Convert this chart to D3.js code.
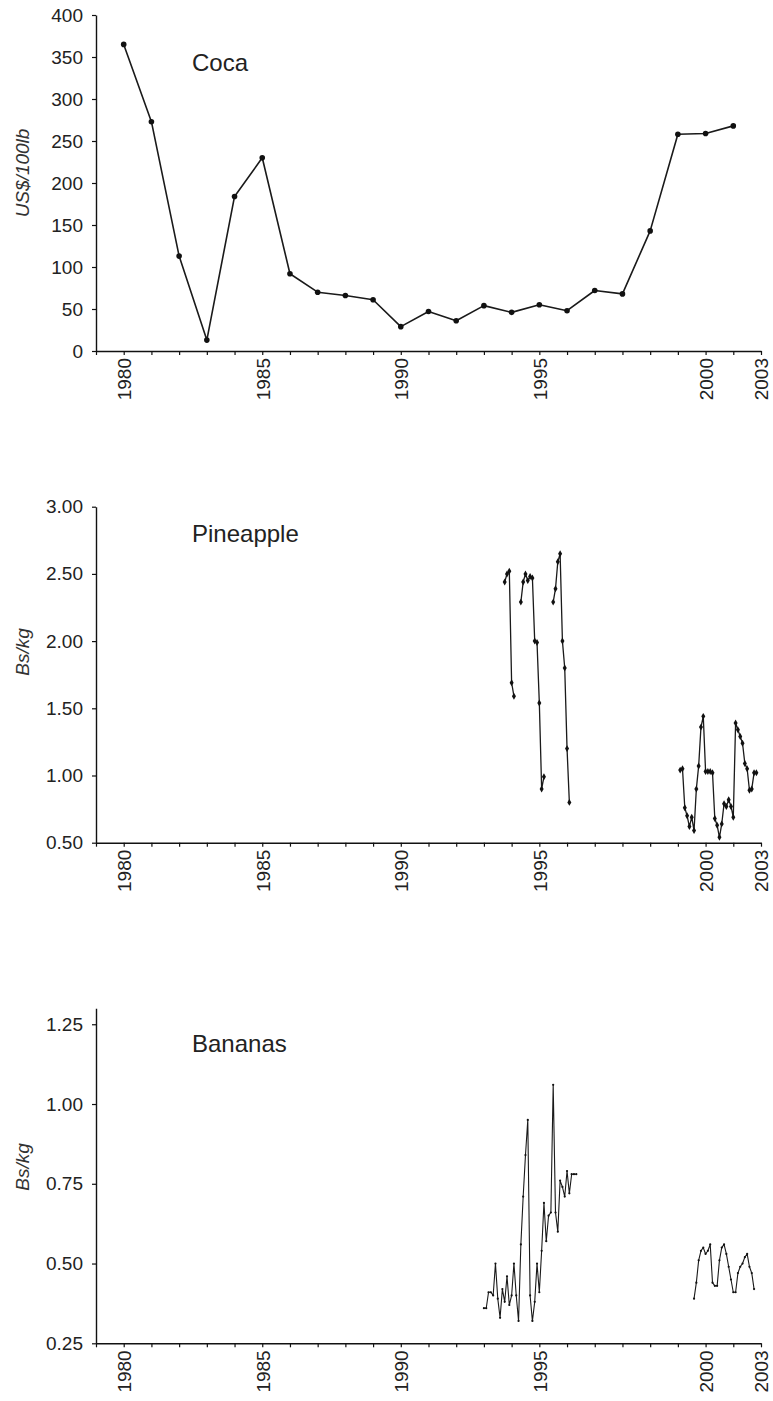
<!DOCTYPE html>
<html>
<head>
<meta charset="utf-8">
<script src="https://cdn.jsdelivr.net/npm/d3@7/dist/d3.min.js"></script>
<style>
    body { margin: 0; background: #fff; }
    text { font-family: "Liberation Sans", Arial, sans-serif; fill: #222; }
</style>
</head>
<body>
<div id="chart"></div>
<script>
// shared x axis: 25 period slots, only some of them carry a year label
var xTickLabels = ["", "1980", "", "", "", "", "1985", "", "", "", "", "1990", "", "", "", "",
    "1995", "", "", "", "", "", "2000", "", "2003"];

// Coca, US$/100lb, one value per slot starting at slot 1
var cocaValues = [365, 273, 113, 13, 184, 230, 92, 70, 66, 61, 29, 47, 36, 54, 46, 55,
    48, 72, 68, 143, 258, 259, 268];
var cocaTicks = [0, 50, 100, 150, 200, 250, 300, 350, 400];

// Pineapple, Bs/kg, monthly; month 0 sits at slot 14.75, gaps split the series
var pineappleStart = 14.75;
var pineappleSegmentMonths = [0, 7, 21, 76];
var pineapple1 = [2.44, 2.50, 2.52, 1.69, 1.59];
var pineapple2 = [2.29, 2.44, 2.50, 2.45, 2.48, 2.47, 2.00, 1.99, 1.54, 0.90, 0.99];
var pineapple3 = [2.29, 2.39, 2.59, 2.65, 2.00, 1.80, 1.20, 0.80];
var pineapple4 = [1.04, 1.05, 0.76, 0.70, 0.62, 0.69, 0.59, 0.90, 1.07, 1.36, 1.44, 1.03,
    1.03, 1.03, 1.02, 0.68, 0.63, 0.54, 0.64, 0.79, 0.77, 0.82, 0.77, 0.69, 1.39, 1.34,
    1.29, 1.24, 1.09, 1.05, 0.89, 0.90, 1.02, 1.02];
var pineappleTicks = [0.5, 1.0, 1.5, 2.0, 2.5, 3.0];

// Bananas, Bs/kg, monthly; month 0 sits at slot 14
var bananaStart = 14;
var bananaSegmentMonths = [0, 91];
var banana1 = [0.36, 0.36, 0.41, 0.41, 0.40, 0.50, 0.39, 0.33, 0.42, 0.38, 0.46, 0.37,
    0.40, 0.50, 0.40, 0.32, 0.56, 0.71, 0.84, 0.95, 0.40, 0.32, 0.38, 0.50, 0.41, 0.54,
    0.69, 0.57, 0.65, 0.66, 1.06, 0.66, 0.60, 0.76, 0.74, 0.71, 0.79, 0.72, 0.78, 0.78, 0.78];
var banana2 = [0.39, 0.44, 0.51, 0.54, 0.55, 0.53, 0.54, 0.56, 0.44, 0.43, 0.43, 0.51,
    0.55, 0.56, 0.53, 0.49, 0.45, 0.41, 0.41, 0.47, 0.49, 0.50, 0.52, 0.53, 0.49, 0.47, 0.42];
var bananaTicks = [0.25, 0.50, 0.75, 1.00, 1.25];

function monthly(start, segMonths, segments) {
    return segments.map(function (vals, s) {
        return vals.map(function (v, i) {
            return { x: start + (segMonths[s] + i) / 12, y: v };
        });
    });
}

var width = 773, height = 1401;

var svg = d3.select("#chart")
    .append("svg")
    .attr("width", width)
    .attr("height", height);

var x = d3.scaleLinear()
    .domain([0, xTickLabels.length - 1])
    .range([96, 761]);

function drawPanel(p) {
    var y = d3.scaleLinear()
        .domain(p.domain)
        .range([p.bottom, p.top]);

    var g = svg.append("g");

    // y axis
    var yAxis = g.append("g")
        .attr("transform", "translate(" + x(0) + ",0)")
        .call(d3.axisLeft(y)
            .tickValues(p.ticks)
            .tickFormat(p.format)
            .tickSize(4)
            .tickSizeOuter(0)
            .tickPadding(9));
    yAxis.selectAll("text").style("font-size", "19px");

    // x axis
    var xAxis = g.append("g")
        .attr("transform", "translate(0," + p.bottom + ")")
        .call(d3.axisBottom(x)
            .tickValues(d3.range(xTickLabels.length))
            .tickFormat(function (i) { return xTickLabels[i]; })
            .tickSize(4)
            .tickSizeOuter(0));
    xAxis.selectAll("text")
        .attr("transform", "rotate(-90)")
        .attr("x", -7)
        .attr("y", 0)
        .attr("dy", "0.36em")
        .style("text-anchor", "end")
        .style("font-size", "19px");

    g.selectAll(".domain").attr("stroke", "#111").attr("stroke-width", 1.4);
    g.selectAll(".tick line").attr("stroke", "#111").attr("stroke-width", 1.2);

    // y axis title
    g.append("text")
        .attr("transform", "translate(22," + p.yTitleY + ") rotate(-90)")
        .attr("dy", "0.35em")
        .style("text-anchor", "middle")
        .style("font-size", "19px")
        .style("font-style", "italic")
        .style("fill", "#333")
        .text(p.yTitle);

    // panel title
    g.append("text")
        .attr("x", 192)
        .attr("y", p.titleY)
        .style("font-size", "24px")
        .text(p.title);

    var line = d3.line()
        .x(function (d) { return x(d.x); })
        .y(function (d) { return y(d.y); });

    g.selectAll("path.series")
        .data(p.series)
        .enter()
        .append("path")
        .attr("class", "series")
        .attr("d", line)
        .attr("fill", "none")
        .attr("stroke", "#1a1a1a")
        .attr("stroke-width", p.lineWidth)
        .attr("stroke-linejoin", "round");

    var pts = [].concat.apply([], p.series);
    if (p.marker === "circle") {
        g.selectAll("circle.pt")
            .data(pts)
            .enter()
            .append("circle")
            .attr("class", "pt")
            .attr("cx", function (d) { return x(d.x); })
            .attr("cy", function (d) { return y(d.y); })
            .attr("r", p.markerSize)
            .attr("fill", "#111");
    } else {
        g.selectAll("path.pt")
            .data(pts)
            .enter()
            .append("path")
            .attr("class", "pt")
            .attr("transform", function (d) {
                return "translate(" + x(d.x) + "," + y(d.y) + ")";
            })
            .attr("d", d3.symbol().type(d3.symbolDiamond).size(p.markerSize))
            .attr("fill", "#111");
    }
}

drawPanel({
    title: "Coca",
    titleY: 71,
    yTitle: "US$/100lb",
    yTitleY: 173,
    domain: [0, 400],
    top: 15,
    bottom: 351,
    ticks: cocaTicks,
    format: d3.format("d"),
    series: [cocaValues.map(function (v, i) { return { x: i + 1, y: v }; })],
    lineWidth: 1.6,
    marker: "circle",
    markerSize: 2.8
});

drawPanel({
    title: "Pineapple",
    titleY: 542,
    yTitle: "Bs/kg",
    yTitleY: 652,
    domain: [0.5, 3.0],
    top: 506.7,
    bottom: 842.7,
    ticks: pineappleTicks,
    format: d3.format(".2f"),
    series: monthly(pineappleStart, pineappleSegmentMonths,
        [pineapple1, pineapple2, pineapple3, pineapple4]),
    lineWidth: 1.3,
    marker: "diamond",
    markerSize: 14
});

drawPanel({
    title: "Bananas",
    titleY: 1052,
    yTitle: "Bs/kg",
    yTitleY: 1167,
    domain: [0.25, 1.30],
    top: 1008.3,
    bottom: 1343.3,
    ticks: bananaTicks,
    format: d3.format(".2f"),
    series: monthly(bananaStart, bananaSegmentMonths, [banana1, banana2]),
    lineWidth: 1.1,
    marker: "circle",
    markerSize: 1.1
});
</script>
</body>
</html>
